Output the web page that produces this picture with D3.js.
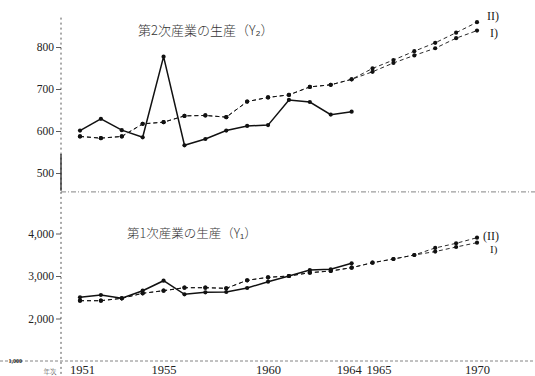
<!DOCTYPE html>
<html>
<head>
<meta charset="utf-8">
<script src="https://cdn.jsdelivr.net/npm/d3@7"></script>
<style>
  html, body { margin: 0; padding: 0; background: #fff; }
  svg { display: block; }
  .num { font-family: "Liberation Serif", "DejaVu Serif", serif; fill: #222; }
  .jp { font-family: "Noto Sans CJK JP", sans-serif; font-weight: 300; fill: #333; }
</style>
</head>
<body>
<svg id="chart" width="535" height="376"></svg>
<script>
// ---- data ----
const years = [1951,1952,1953,1954,1955,1956,1957,1958,1959,1960,1961,1962,1963,1964,1965,1966,1967,1968,1969,1970];
const actualYears = [1951,1952,1953,1954,1955,1956,1957,1958,1959,1960,1961,1962,1963,1964];

// 第2次産業の生産 (Y2)
const y2Actual  = [601,629,602,585,777,566,581,601,612,614,674,669,639,646];
const y2ModelI  = [587,583,587,617,621,636,637,633,670,680,686,705,710,723,741,762,780,797,821,839];
const y2ModelII = [587,583,587,617,621,636,637,633,670,680,686,705,710,723,749,769,790,810,834,859];

// 第1次産業の生産 (Y1)
const y1Actual  = [2499,2553,2475,2654,2889,2569,2616,2624,2718,2866,3000,3141,3158,3299];
const y1ModelI  = [2419,2419,2475,2593,2654,2725,2725,2710,2899,2969,3000,3078,3118,3196,3313,3400,3494,3575,3682,3784];
const y1ModelII = [2419,2419,2475,2593,2654,2725,2725,2710,2899,2969,3000,3078,3118,3196,3313,3400,3494,3660,3769,3901];

const xTickYears = [1951,1955,1960,1964,1965,1970];
const topTicks = [500,600,700,800];
const bottomTicks = [2000,3000,4000];
const topTitle = "第2次産業の生産（Y₂）";
const bottomTitle = "第1次産業の生産（Y₁）";
const labelII = "II)";
const labelI = "I)";
const labelIIb = "(II)";
const labelIb = "I)";

// ---- scales ----
const svg = d3.select("#chart");
const x = d3.scaleLinear().domain([1951,1970]).range([80,477]);
const yTop = d3.scaleLinear().domain([500,800]).range([173,47]);
const yBot = d3.scaleLinear().domain([1000,4000]).range([361,233.5]);
const axisX = 61;

// ---- axes frame ----
svg.append("line")
  .attr("x1", axisX).attr("x2", axisX)
  .attr("y1", yTop(870)).attr("y2", yTop(455))
  .attr("stroke", "#555").attr("stroke-width", 1).attr("stroke-dasharray", "2,3");
svg.append("line")
  .attr("x1", axisX).attr("x2", axisX)
  .attr("y1", yTop(545)).attr("y2", yTop(458))
  .attr("stroke", "#222").attr("stroke-width", 1.3);
svg.append("line")
  .attr("x1", axisX).attr("x2", 535)
  .attr("y1", yTop(455)).attr("y2", yTop(455))
  .attr("stroke", "#666").attr("stroke-width", 0.8).attr("stroke-dasharray", "5,2,1,2");
svg.append("line")
  .attr("x1", axisX).attr("x2", axisX)
  .attr("y1", yTop(455)).attr("y2", 376)
  .attr("stroke", "#555").attr("stroke-width", 1).attr("stroke-dasharray", "2,3");
svg.append("line")
  .attr("x1", 0).attr("x2", 535)
  .attr("y1", yBot(1000)).attr("y2", yBot(1000))
  .attr("stroke", "#666").attr("stroke-width", 0.8).attr("stroke-dasharray", "3,2");

// y axes with ticks
const topAxis = d3.axisLeft(yTop).tickValues(topTicks).tickSize(5).tickPadding(2).tickFormat(d3.format("d"));
const gTop = svg.append("g").attr("transform", `translate(${axisX},0)`).call(topAxis);
gTop.select(".domain").remove();

const botAxis = d3.axisLeft(yBot).tickValues(bottomTicks).tickSize(5).tickPadding(2).tickFormat(d => d3.format(",")(d));
const gBot = svg.append("g").attr("transform", `translate(${axisX},0)`).call(botAxis);
gBot.select(".domain").remove();

[gTop, gBot].forEach(g => {
  g.selectAll("line").attr("stroke", "#333").attr("stroke-width", 0.8);
  g.selectAll("text").attr("class", "num").style("font-size", "11.5px").attr("fill", "#222");
  g.attr("font-family", null).attr("font-size", null);
});

// x axis labels
const xAxis = d3.axisBottom(x).tickValues(xTickYears).tickSize(0).tickPadding(4).tickFormat(d3.format("d"));
const gX = svg.append("g").attr("transform", `translate(0,${yBot(1000)})`).call(xAxis);
gX.select(".domain").remove();
gX.attr("font-family", null).attr("font-size", null);
gX.selectAll("text").attr("class", "num").style("font-size", "12.5px").attr("fill", "#222")
  .attr("dx", d => d === 1964 ? -3 : (d === 1965 ? 6 : (d === 1951 ? 2 : 0)));

// small corner labels
svg.append("text").attr("class", "num").attr("x", 22).attr("y", yBot(1000) + 2)
  .attr("text-anchor", "end").style("font-size", "6px").style("font-weight", "bold").text("1,000");
svg.append("text").attr("class", "jp").attr("x", 50).attr("y", 374)
  .attr("text-anchor", "middle").style("font-size", "6.5px").text("年次");

// ---- series ----
function drawSeries(xs, vals, yScale, solid) {
  const pts = xs.map((yr, i) => [yr, vals[i]]);
  const line = d3.line().x(d => x(d[0])).y(d => yScale(d[1]));
  svg.append("path").datum(pts)
    .attr("d", line)
    .attr("fill", "none")
    .attr("stroke", "#111")
    .attr("stroke-width", solid ? 1.5 : 0.9)
    .attr("stroke-dasharray", solid ? null : "4,3");
  svg.append("g").selectAll("circle").data(pts).join("circle")
    .attr("cx", d => x(d[0])).attr("cy", d => yScale(d[1]))
    .attr("r", 2.1).attr("fill", "#111");
}

drawSeries(years, y2ModelII, yTop, false);
drawSeries(years, y2ModelI, yTop, false);
drawSeries(actualYears, y2Actual, yTop, true);

drawSeries(years, y1ModelII, yBot, false);
drawSeries(years, y1ModelI, yBot, false);
drawSeries(actualYears, y1Actual, yBot, true);

// ---- titles & series labels ----
svg.append("text").attr("class", "jp").attr("x", 138).attr("y", 35)
  .style("font-size", "13px").text(topTitle);
svg.append("text").attr("class", "jp").attr("x", 127).attr("y", 238)
  .style("font-size", "12.5px").attr("fill", "#555").text(bottomTitle);

svg.append("text").attr("class", "num").attr("x", 487).attr("y", 20)
  .style("font-size", "12px").text(labelII);
svg.append("text").attr("class", "num").attr("x", 490).attr("y", 37)
  .style("font-size", "12px").text(labelI);
svg.append("text").attr("class", "num").attr("x", 483).attr("y", 240)
  .style("font-size", "12px").text(labelIIb);
svg.append("text").attr("class", "num").attr("x", 490).attr("y", 253)
  .style("font-size", "11px").attr("fill", "#666").text(labelIb);
</script>
</body>
</html>
